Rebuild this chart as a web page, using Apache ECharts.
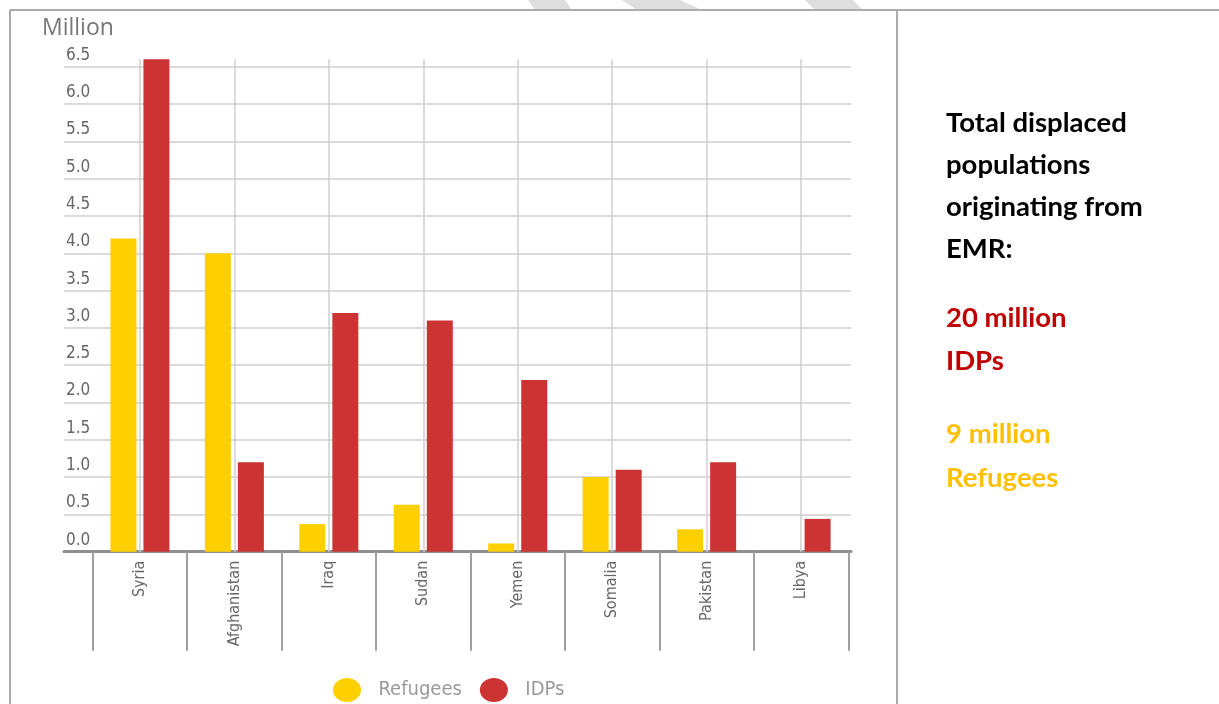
<!DOCTYPE html>
<html>
<head>
<meta charset="utf-8" />
<title>Displaced populations originating from EMR</title>
<script src="https://cdn.jsdelivr.net/npm/echarts@6/dist/echarts.min.js"></script>
<style>
  html, body { margin: 0; padding: 0; background: #fff; }
  #chart { width: 1219px; height: 704px; }
</style>
</head>
<body>
<div id="chart"></div>
<script>
const countries = ["Syria", "Afghanistan", "Iraq", "Sudan", "Yemen", "Somalia", "Pakistan", "Libya"];
const refugees = [4.2, 4.0, 0.37, 0.63, 0.11, 1.0, 0.3, 0];
const idps = [6.6, 1.2, 3.2, 3.1, 2.3, 1.1, 1.2, 0.44];
const seriesNames = ["Refugees", "IDPs"];
const noteLines = ["Total displaced", "populations", "originating from", "EMR:"];
const idpLines = ["20 million", "IDPs"];
const refugeeLines = ["9 million", "Refugees"];

const palette = {
  yellow: "#ffd000",
  red: "#cc3333",
  grid: "#cfcfcf",
  axis: "#8f8f8f",
  tick: "#a0a0a0",
  label: "#666",
  border: "#ababab",
  darkRed: "#c00000",
  amber: "#ffc000",
};

const narrow = "'DejaVu Sans Condensed', 'Liberation Sans Narrow', 'Roboto Condensed', sans-serif";
const ellipse = "path://M0,12a14,12 0 1,0 28,0a14,12 0 1,0 -28,0z";

// zero line sits at y=551.7, 0.5 step = 37.3px
const zeroY = 551.7;
const pxPerUnit = 74.6;
const barTop = zeroY - 6.6 * pxPerUnit;

function textBlock(lines, color, firstY, step) {
  return lines.map((line, i) => ({
    type: "text",
    left: 946,
    top: firstY + i * step - 17,
    style: { text: line, fill: color, font: "bold 27.5px Lato, 'Open Sans', sans-serif" },
  }));
}

const chart = echarts.init(document.getElementById("chart"), null, { renderer: "canvas" });

chart.setOption({
  backgroundColor: "#fff",
  animation: false,
  title: {
    text: "Million",
    left: 42,
    top: 17,
    padding: 0,
    textStyle: { color: "#777", fontSize: 23, fontWeight: "normal", fontFamily: "'Open Sans', 'Noto Sans', sans-serif" },
  },
  legend: {
    left: 328,
    top: 673,
    itemWidth: 29,
    itemHeight: 24,
    itemGap: 18,
    icon: ellipse,
    data: seriesNames,
    textStyle: { color: "#999", fontSize: 20, fontFamily: narrow, padding: [0, 0, 0, 12] },
  },
  grid: [
    { left: 64, right: 1219 - 851, top: zeroY - 6.5 * pxPerUnit, bottom: 704 - zeroY },
    { left: 92.7, right: 1219 - 848.3, top: barTop, bottom: 704 - zeroY },
  ],
  xAxis: [
    {
      gridIndex: 0,
      type: "value",
      min: 0,
      max: 1,
      axisLine: { show: true, lineStyle: { color: palette.axis, width: 3 } },
      axisTick: { show: false },
      axisLabel: { show: false },
      splitLine: { show: false },
    },
    {
      gridIndex: 1,
      type: "category",
      data: countries,
      position: "bottom",
      axisLine: { show: false },
      axisTick: { show: true, interval: 0, length: 99, lineStyle: { color: palette.tick, width: 2 } },
      axisLabel: { rotate: 90, interval: 0, margin: 9, color: palette.label, fontSize: 16, fontFamily: narrow },
    },
    {
      gridIndex: 1,
      type: "category",
      data: countries,
      position: "top",
      axisLine: { show: false },
      axisTick: {
        show: true,
        inside: true,
        alignWithLabel: true,
        interval: 0,
        length: zeroY - barTop,
        lineStyle: { color: palette.grid, width: 1.5 },
      },
      axisLabel: { show: false },
    },
  ],
  yAxis: [
    {
      gridIndex: 0,
      type: "value",
      min: 0,
      max: 6.5,
      interval: 0.5,
      axisLine: { show: false },
      axisTick: { show: false },
      axisLabel: {
        inside: true,
        margin: 2,
        verticalAlign: "bottom",
        padding: [0, 0, 3, 0],
        color: palette.label,
        fontSize: 17,
        fontFamily: narrow,
        formatter: (v) => v.toFixed(1),
      },
      splitLine: { lineStyle: { color: palette.grid, width: 1.5 } },
    },
    { gridIndex: 1, type: "value", min: 0, max: 6.6, show: false },
  ],
  series: [
    {
      name: seriesNames[0],
      type: "bar",
      xAxisIndex: 1,
      yAxisIndex: 1,
      barWidth: 26,
      barGap: "27%",
      itemStyle: { color: palette.yellow },
      data: refugees,
    },
    {
      name: seriesNames[1],
      type: "bar",
      xAxisIndex: 1,
      yAxisIndex: 1,
      barWidth: 26,
      barGap: "27%",
      itemStyle: { color: palette.red },
      data: idps,
    },
  ],
  graphic: [
    // faint watermark strokes above the frame
    { type: "polygon", shape: { points: [[528, 0], [565, 0], [572, 10], [535, 10]] }, style: { fill: "#dedede" } },
    { type: "polygon", shape: { points: [[622, 0], [680, 0], [702, 10], [637, 10]] }, style: { fill: "#dedede" } },
    { type: "polygon", shape: { points: [[805, 0], [853, 0], [863, 10], [815, 10]] }, style: { fill: "#dedede" } },
    { type: "line", shape: { x1: 10, y1: 10, x2: 1219, y2: 10 }, style: { stroke: palette.border, lineWidth: 2 } },
    { type: "line", shape: { x1: 10, y1: 10, x2: 10, y2: 704 }, style: { stroke: palette.border, lineWidth: 2 } },
    { type: "line", shape: { x1: 897, y1: 10, x2: 897, y2: 704 }, style: { stroke: palette.border, lineWidth: 2 } },
    ...textBlock(noteLines, "#000", 126, 42),
    ...textBlock(idpLines, palette.darkRed, 321, 43.5),
    ...textBlock(refugeeLines, palette.amber, 437, 44),
  ],
});

window.addEventListener("resize", () => chart.resize());
</script>
</body>
</html>
